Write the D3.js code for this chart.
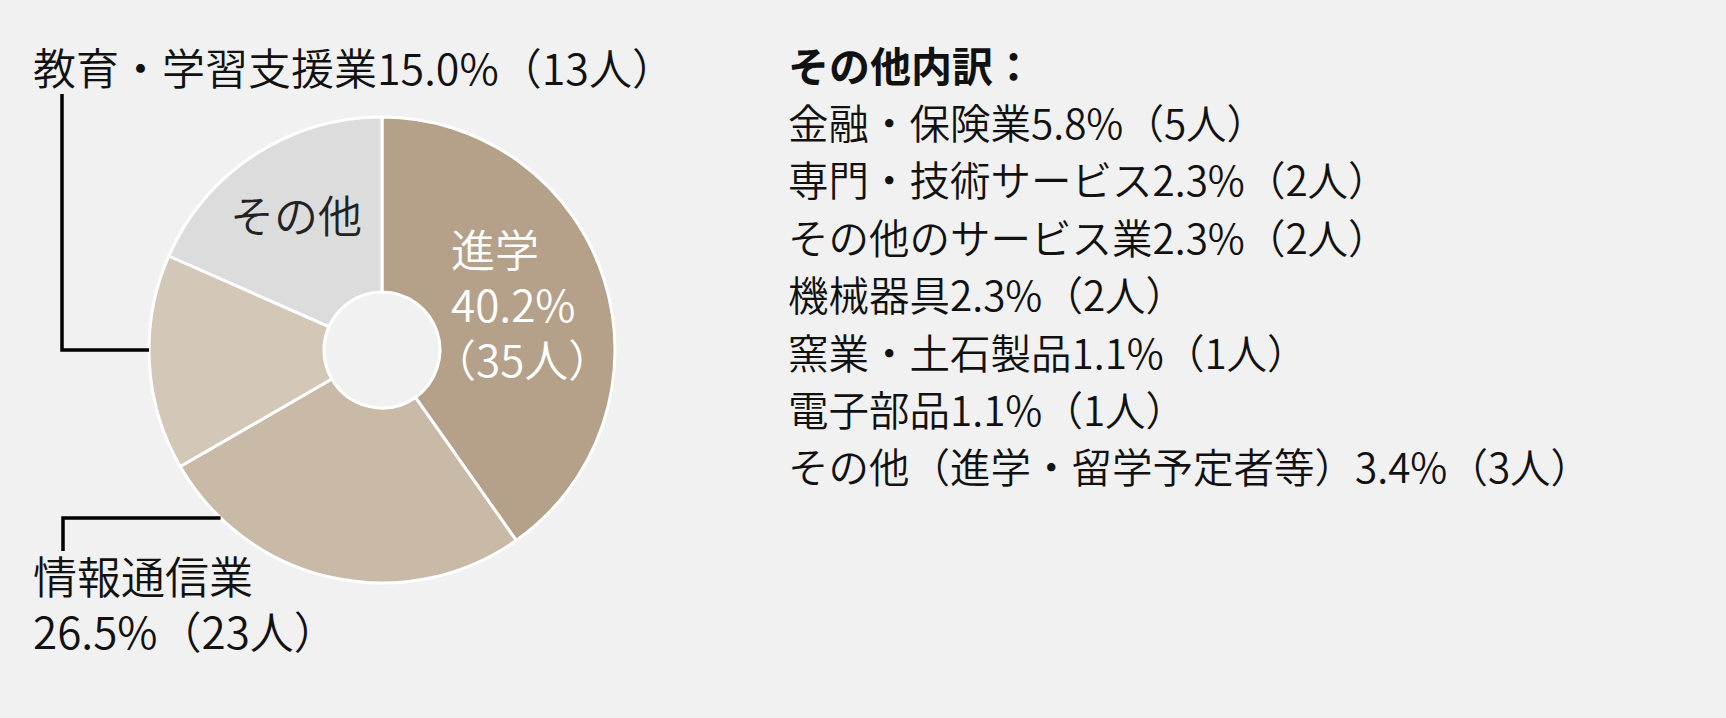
<!DOCTYPE html>
<html lang="ja">
<head>
<meta charset="utf-8">
<style>
  body { margin: 0; background: #f1f1f1; }
  svg { display: block; }
  text { font-family: "Noto Sans CJK JP", "Noto Sans", sans-serif; font-weight: 350; fill: #111; }
</style>
</head>
<body>
<svg width="1726" height="718"></svg>
<script src="https://d3js.org/d3.v7.min.js"></script>
<script>
// main breakdown (people)
var categories = ["進学", "情報通信業", "教育・学習支援業", "その他"];
var counts = [35, 23, 13, 16];
var percents = ["40.2%", "26.5%", "15.0%", "18.4%"];
var colors = ["#b5a189", "#c9baa7", "#d3c7b8", "#dcdcdc"];

// "その他" breakdown
var otherTitle = "その他内訳：";
var otherNames = ["金融・保険業", "専門・技術サービス", "その他のサービス業", "機械器具", "窯業・土石製品", "電子部品", "その他（進学・留学予定者等）"];
var otherPercents = ["5.8%", "2.3%", "2.3%", "2.3%", "1.1%", "1.1%", "3.4%"];
var otherCounts = [5, 2, 2, 2, 1, 1, 3];

var svg = d3.select("svg");
var cx = 382, cy = 350;
var outerR = 233, innerR = 58;

var pie = d3.pie().sort(null).value(function(d) { return d; });
var arc = d3.arc().innerRadius(innerR).outerRadius(outerR);
var arcs = pie(counts);

var g = svg.append("g").attr("transform", "translate(" + cx + "," + cy + ")");

g.selectAll("path.slice")
  .data(arcs)
  .enter().append("path")
  .attr("class", "slice")
  .attr("d", arc)
  .attr("fill", function(d, i) { return colors[i]; })
  .attr("stroke", "#fff")
  .attr("stroke-width", 3)
  .attr("stroke-linejoin", "round");

function ppl(n) { return "（" + n + "人）"; }

// inside labels
var lab0 = g.append("text").attr("x", 69).attr("y", -83).style("font-size", "44px").style("fill", "#fff");
lab0.append("tspan").attr("x", 69).text(categories[0]);
lab0.append("tspan").attr("x", 69).attr("dy", 55).text(percents[0]);
lab0.append("tspan").attr("x", 50).attr("dy", 55).text(ppl(counts[0]));

g.append("text").attr("x", -152).attr("y", -117).style("font-size", "44px").style("fill", "#222").text(categories[3]);

// leader for 教育・学習支援業 (hits the left edge of the ring)
var eduY = 0;
var leadX = 62 - cx;
g.append("path")
  .attr("d", "M" + (-outerR) + "," + eduY + "H" + leadX + "V" + (94 - cy))
  .attr("fill", "none").attr("stroke", "#000").attr("stroke-width", 3.5);
svg.append("text").attr("x", 33).attr("y", 85).style("font-size", "43px")
  .text(categories[2] + percents[2] + ppl(counts[2]));

// leader for 情報通信業
var infoY = 518 - cy;
var infoX = -Math.sqrt(outerR * outerR - infoY * infoY);
g.append("path")
  .attr("d", "M" + infoX + "," + infoY + "H" + (63 - cx) + "V" + (551 - cy))
  .attr("fill", "none").attr("stroke", "#000").attr("stroke-width", 3.5);
var infoT = svg.append("text").attr("x", 33).attr("y", 594).style("font-size", "44px");
infoT.append("tspan").attr("x", 33).text(categories[1]);
infoT.append("tspan").attr("x", 33).attr("dy", 55).text(percents[1] + ppl(counts[1]));

// right-hand list
var lx = 788;
svg.append("text").attr("x", lx).attr("y", 82).style("font-size", "41px").style("font-weight", "bold")
  .text(otherTitle);
svg.selectAll("text.item")
  .data(otherNames)
  .enter().append("text")
  .attr("class", "item")
  .attr("x", lx)
  .attr("y", function(d, i) { return 139 + i * 57.4; })
  .style("font-size", "40.5px")
  .text(function(d, i) { return d + otherPercents[i] + ppl(otherCounts[i]); });
</script>
</body>
</html>
